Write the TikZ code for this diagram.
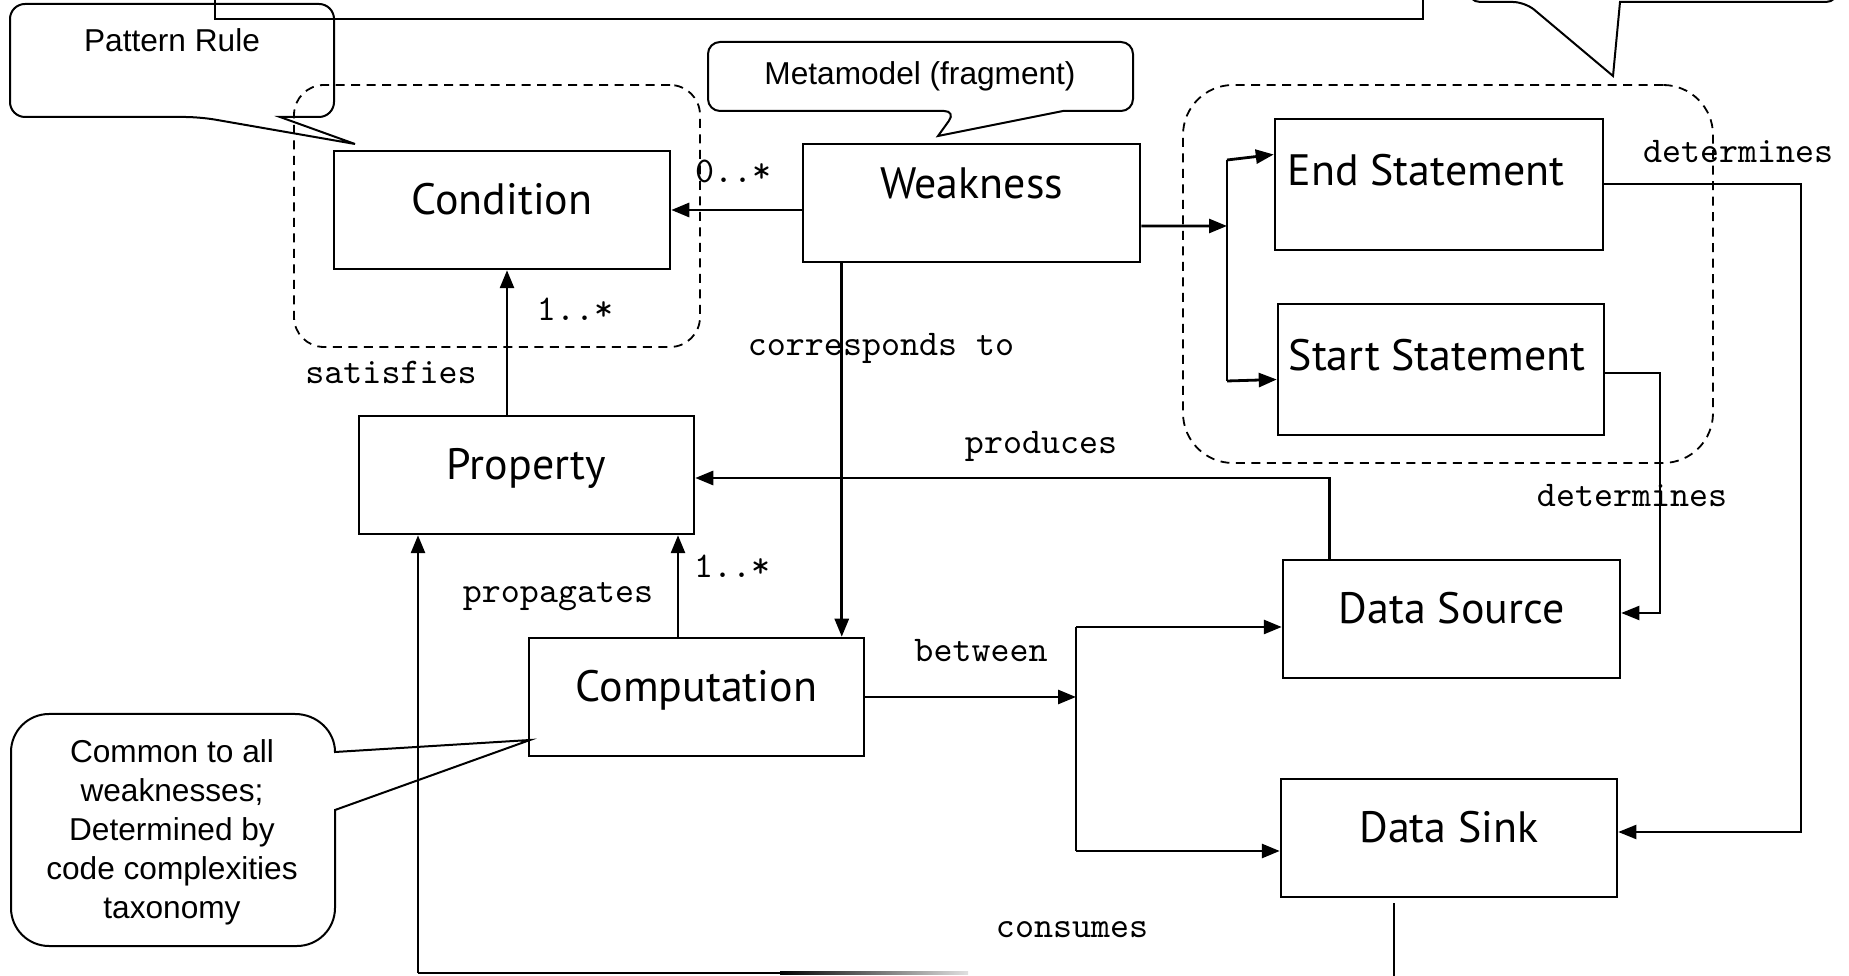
\documentclass[tikz,border=0pt]{standalone}
\usepackage{fontspec}
\setmainfont{Liberation Sans}
\newfontfamily\boxfont{PT Sans}
\usetikzlibrary{arrows.meta,positioning,fit}

\begin{document}
\begin{tikzpicture}[
  x=0.1mm, y=-0.1mm,
  box/.style={draw,line width=0.25mm,minimum width=33.6mm,minimum height=11.8mm,inner sep=0pt,
    font=\boxfont\fontsize{12.5}{15}\selectfont,text height=8.75pt,text depth=6.3pt},
  grp/.style={draw,line width=0.18mm,dash pattern=on 0.9mm off 0.65mm,inner sep=0pt},
  lbl/.style={font=\ttfamily\fontsize{10.3}{12}\selectfont,inner sep=0pt},
  note/.style={font=\fontsize{9}{11.1}\selectfont,align=center,inner sep=0pt},
  callout/.style={draw,line width=0.2mm},
  arr/.style={-{Triangle[length=1.8mm,width=1.4mm]},line width=0.28mm},
  thinarr/.style={arr,line width=0.2mm},
  wire/.style={line width=0.28mm}
]
\useasboundingbox (0,0) rectangle (1849,976);
\clip (0,0) rectangle (1849,976);
% ---------- cut-off frames at the top ----------
\draw[callout,line width=0.25mm] (215,-60) rectangle (1423,19);
\draw[callout] (1620,2) [rounded corners=1.2mm] -- (1838,2) -- (1838,-60) -- (1468,-60) -- (1468,2) -- (1525,2) [sharp corners] -- (1613,76) -- cycle;
% ---------- callouts ----------
\draw[callout] (280,117) [rounded corners=1.5mm] -- (334,117) -- (334,4) -- (10,4) -- (10,117) -- (200,117) [sharp corners] -- (355,144) -- cycle;
\node[note] (ruletxt) at (172,40) {Pattern Rule};
\draw[callout] (1063,111) [rounded corners=1.2mm] -- (1133,111) -- (1133,42) -- (708,42) -- (708,111) -- (956,111) [sharp corners] -- (938,136) -- cycle;
\node[note] (metatxt) at (920,76) {Metamodel (fragment)};
\draw[callout] (335,810) [rounded corners=3.8mm] -- (335,946) -- (11,946) -- (11,714) [sharp corners] -- (295,714) .. controls (317,714) and (335,731) .. (335,752) -- (530,740) -- cycle;
\node[note] (commontxt) at (172,832) {Common to all\\weaknesses;\\Determined by\\code complexities\\taxonomy};
% ---------- dashed groups ----------
\node[grp,fit={(294,85) (700,347)},rounded corners=3mm] (condgrp) {};
\node[grp,fit={(1183,85) (1713,463)},rounded corners=5mm] (stmtgrp) {};
% ---------- classes ----------
\node[box] (cond) at (502,210) {Condition};
\node[box,minimum width=33.7mm,text depth=11.4pt] (weak) at (971.5,203) {Weakness};
\node[box,minimum width=32.8mm,minimum height=13.1mm,text depth=8.3pt] (endst) at (1439,184.5) {End Statement\hspace*{2.6mm}};
\node[box,minimum width=32.6mm,minimum height=13.1mm,text depth=8.3pt] (startst) at (1441,369.5) {Start Statement\hspace*{0.8mm}};
\node[box,minimum width=33.5mm] (prop) at (526.5,475) {Property};
\node[box,minimum width=33.5mm] (comp) at (696.5,697) {Computation};
\node[box,minimum width=33.7mm] (src) at (1451.5,619) {Data Source};
\node[box] (sink) at (1449,838) {Data Sink};
% ---------- association labels ----------
\node[lbl] (mult1) at (733,171) {0..*};
\node[lbl] (mult2) at (575,309) {1..*};
\node[lbl] (sat) at (391,372) {satisfies};
\node[lbl] (corr) at (881,348) {corresponds to};
\node[lbl] (prod) at (1041,446) {produces};
\node[lbl] (mult3) at (732,566) {1..*};
\node[lbl] (propag) at (558,597) {propagates};
\node[lbl] (betw) at (981,651) {between};
\node[lbl] (cons) at (1072,930) {consumes};
\node[lbl] (det1) at (1738,152) {determines};
\node[lbl] (det2) at (1632,496) {determines};
% ---------- connectors ----------
\draw[arr] (cond.east -| weak.west) -- (cond.east);
\coordinate (corrtop) at ([xshift=4mm]weak.south west);
\draw[arr] (corrtop) -- (corrtop |- comp.north);
\coordinate (satfoot) at ([xshift=-1.95mm]prop.north);
\draw[arr] (satfoot) -- (satfoot |- cond.south);
\coordinate (propfoot) at ([xshift=-1.85mm]comp.north);
\draw[arr] (propfoot) -- (propfoot |- prop.south);
% statements
\coordinate (fan) at (1227,226);
\coordinate (fantop) at (1227,160);
\coordinate (fanbot) at (1227,381);
\draw[arr] ([yshift=-2.3mm]weak.east) -- (fan);
\draw[wire] (fantop) -- (fanbot);
\draw[arr] (fantop) -- ([yshift=3mm]endst.west);
\draw[arr] (fanbot) -- ([yshift=-1mm]startst.west);
\draw[thinarr] (endst.east) -- ++(19.7mm,0) |- ([yshift=0.6mm]sink.east);
\draw[thinarr] ([yshift=-0.35mm]startst.east) -- ++(5.5mm,0) |- ([yshift=0.6mm]src.east);
% data flow
\coordinate (prodfoot) at ([xshift=4.8mm]src.north west);
\draw[arr] (prodfoot) |- ([yshift=-0.3mm]prop.east);
\coordinate (split) at (1076,697);
\coordinate (splittop) at (1076,627);
\coordinate (splitbot) at (1076,851);
\draw[arr] (comp.east) -- (split);
\draw[wire] (splittop) -- (splitbot);
\draw[arr] (splittop) -- (splittop -| src.west);
\draw[arr] (splitbot) -- (splitbot -| sink.west);
\coordinate (consfoot) at (418,973);
\draw[wire,line width=0.2mm] ([xshift=11.4mm,yshift=-0.5mm]sink.south west) -- ++(0,-10mm);
\draw[wire] (consfoot) -- (780,973);
\shade[left color=black,right color=black!12] (780,971.6) rectangle (968,974.4);
\draw[arr] (consfoot) -- (consfoot |- prop.south);
\end{tikzpicture}
\end{document}
